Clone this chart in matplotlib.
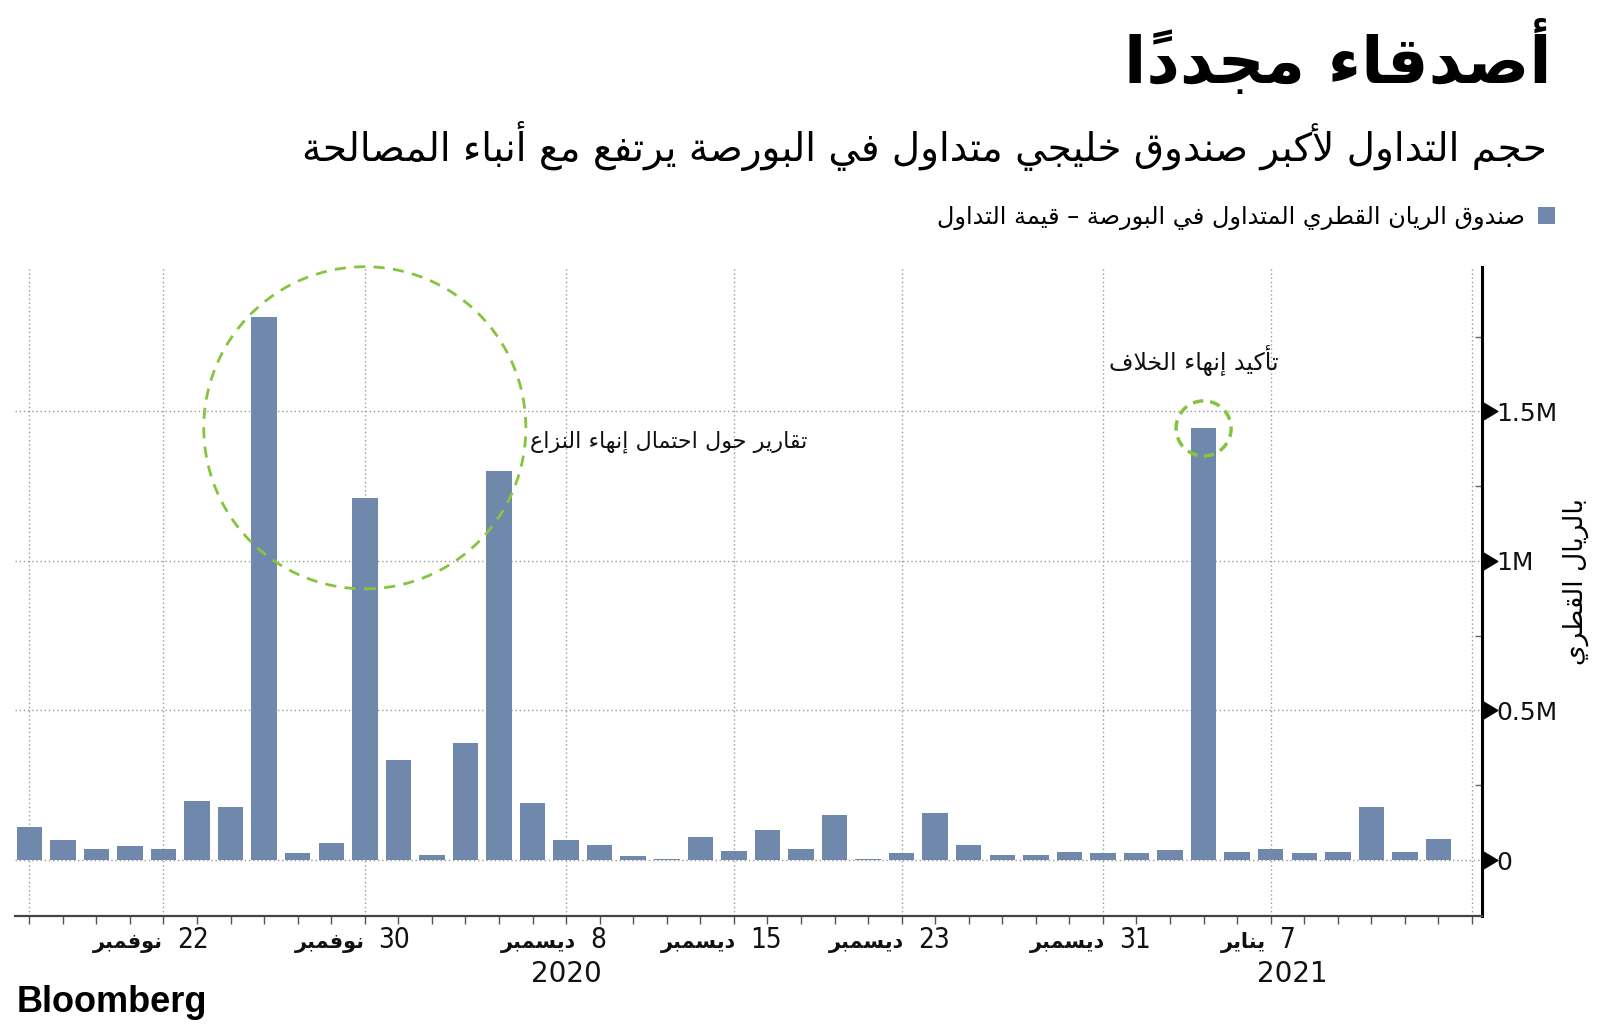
import matplotlib
matplotlib.use("Agg")
import matplotlib.pyplot as plt
from matplotlib.patches import Ellipse
from matplotlib.offsetbox import TextArea, HPacker, AnnotationBbox
from matplotlib.path import Path
from matplotlib.ticker import FixedLocator, FuncFormatter

# ---------------- data ----------------
# daily traded value (QAR) of Al Rayan Qatar ETF, trading days 16 Nov 2020 - 12 Jan 2021
values = [109000, 68000, 37000, 46000, 37000, 198000, 176000, 1814000, 23000, 56000,
          1210000, 333000, 18000, 390000, 1302000, 190000, 68000, 50000, 14000, 3000,
          78000, 29000, 100000, 37000, 149000, 5000, 23000, 158000, 50000, 18000,
          18000, 28000, 23000, 23000, 32000, 1444000, 28000, 37000, 23000, 28000,
          176000, 28000, 72000]
tick_index = [4, 10, 16, 21, 26, 32, 37]
tick_day = ["22", "30", "8", "15", "23", "31", "7"]
tick_month = ["نوفمبر", "نوفمبر", "ديسمبر", "ديسمبر", "ديسمبر", "ديسمبر", "يناير"]
year_index = [16, 37.65]
year_label = ["2020", "2021"]
y_ticks = [0, 500000, 1000000, 1500000]
y_tick_labels = ["0", "0.5M", "1M", "1.5M"]

title = "أصدقاء مجدداً"
subtitle = "حجم التداول لأكبر صندوق خليجي متداول في البورصة يرتفع مع أنباء المصالحة"
legend_label = "صندوق الريان القطري المتداول في البورصة – قيمة التداول"
y_label = "بالريال القطري"
note1 = "تقارير حول احتمال إنهاء النزاع"
note2 = "تأكيد إنهاء الخلاف"

# ---------------- Arabic shaping (presentation forms + visual order) ----------------
FORMS = {  # iso, fin, ini, med
    '\u0621': (0xFE80, None, None, None),
    '\u0622': (0xFE81, 0xFE82, None, None),
    '\u0623': (0xFE83, 0xFE84, None, None),
    '\u0624': (0xFE85, 0xFE86, None, None),
    '\u0625': (0xFE87, 0xFE88, None, None),
    '\u0626': (0xFE89, 0xFE8A, 0xFE8B, 0xFE8C),
    '\u0627': (0xFE8D, 0xFE8E, None, None),
    '\u0628': (0xFE8F, 0xFE90, 0xFE91, 0xFE92),
    '\u0629': (0xFE93, 0xFE94, None, None),
    '\u062A': (0xFE95, 0xFE96, 0xFE97, 0xFE98),
    '\u062B': (0xFE99, 0xFE9A, 0xFE9B, 0xFE9C),
    '\u062C': (0xFE9D, 0xFE9E, 0xFE9F, 0xFEA0),
    '\u062D': (0xFEA1, 0xFEA2, 0xFEA3, 0xFEA4),
    '\u062E': (0xFEA5, 0xFEA6, 0xFEA7, 0xFEA8),
    '\u062F': (0xFEA9, 0xFEAA, None, None),
    '\u0630': (0xFEAB, 0xFEAC, None, None),
    '\u0631': (0xFEAD, 0xFEAE, None, None),
    '\u0632': (0xFEAF, 0xFEB0, None, None),
    '\u0633': (0xFEB1, 0xFEB2, 0xFEB3, 0xFEB4),
    '\u0634': (0xFEB5, 0xFEB6, 0xFEB7, 0xFEB8),
    '\u0635': (0xFEB9, 0xFEBA, 0xFEBB, 0xFEBC),
    '\u0636': (0xFEBD, 0xFEBE, 0xFEBF, 0xFEC0),
    '\u0637': (0xFEC1, 0xFEC2, 0xFEC3, 0xFEC4),
    '\u0638': (0xFEC5, 0xFEC6, 0xFEC7, 0xFEC8),
    '\u0639': (0xFEC9, 0xFECA, 0xFECB, 0xFECC),
    '\u063A': (0xFECD, 0xFECE, 0xFECF, 0xFED0),
    '\u0641': (0xFED1, 0xFED2, 0xFED3, 0xFED4),
    '\u0642': (0xFED5, 0xFED6, 0xFED7, 0xFED8),
    '\u0643': (0xFED9, 0xFEDA, 0xFEDB, 0xFEDC),
    '\u0644': (0xFEDD, 0xFEDE, 0xFEDF, 0xFEE0),
    '\u0645': (0xFEE1, 0xFEE2, 0xFEE3, 0xFEE4),
    '\u0646': (0xFEE5, 0xFEE6, 0xFEE7, 0xFEE8),
    '\u0647': (0xFEE9, 0xFEEA, 0xFEEB, 0xFEEC),
    '\u0648': (0xFEED, 0xFEEE, None, None),
    '\u0649': (0xFEEF, 0xFEF0, None, None),
    '\u064A': (0xFEF1, 0xFEF2, 0xFEF3, 0xFEF4),
}
LAMALEF = {'\u0622': (0xFEF5, 0xFEF6), '\u0623': (0xFEF7, 0xFEF8),
           '\u0625': (0xFEF9, 0xFEFA), '\u0627': (0xFEFB, 0xFEFC)}


def is_mark(c):
    return '\u064B' <= c <= '\u0652'


def dual(c):
    return c in FORMS and FORMS[c][2] is not None


def joins(c):
    return c in FORMS and FORMS[c][1] is not None


def shape(s):
    clusters = []
    for ch in s:
        if is_mark(ch) and clusters:
            clusters[-1] += ch
        else:
            clusters.append(ch)
    bases = [c[0] for c in clusters]
    out = []
    i = 0
    n = len(clusters)
    while i < n:
        b = bases[i]
        marks = clusters[i][1:]
        prev_join = i > 0 and dual(bases[i - 1]) and not (
            out and out[-1][1] == 'lamalef')
        if b == '\u0644' and i + 1 < n and bases[i + 1] in LAMALEF:
            iso, fin = LAMALEF[bases[i + 1]]
            glyph = chr(fin if prev_join else iso)
            out.append((glyph + marks + clusters[i + 1][1:], 'lamalef'))
            i += 2
            continue
        if b in FORMS:
            iso, fin, ini, med = FORMS[b]
            next_join = dual(b) and i + 1 < n and joins(bases[i + 1])
            if prev_join and next_join:
                g = med
            elif prev_join and fin:
                g = fin
            elif next_join:
                g = ini
            else:
                g = iso
            out.append((chr(g) + marks, 'letter'))
        else:
            out.append((clusters[i], 'other'))
        i += 1
    return ''.join(c for c, _ in reversed(out))


AR = ['DejaVu Sans']

# ---------------- figure ----------------
plt.rcParams['font.family'] = ['DejaVu Sans']
fig = plt.figure(figsize=(16, 10.3), dpi=100)
ax = fig.add_axes([0.0095, 0.1107, 0.9168, 0.6302])

bar_color = '#6f88ac'
green = '#86c440'
x = list(range(len(values)))
bars = ax.bar(x, values, width=0.76, color=bar_color, zorder=3,
              label=shape(legend_label))

ax.set_xlim(-0.42, 43.3)
ax.set_ylim(-187000, 1983000)

# grid
ax.xaxis.set_major_locator(FixedLocator([0] + tick_index + [43]))
ax.xaxis.set_minor_locator(FixedLocator(range(0, 44)))
ax.yaxis.set_major_locator(FixedLocator(y_ticks))
ax.yaxis.set_minor_locator(FixedLocator([250000, 750000, 1250000, 1750000]))
ax.grid(True, which='major', axis='both', linestyle=(0, (1, 2)),
        color='#9a9a9a', linewidth=1, zorder=0)

# spines
for s in ['top', 'left']:
    ax.spines[s].set_visible(False)
ax.spines['right'].set_linewidth(2.2)
ax.spines['right'].set_color('black')
ax.spines['bottom'].set_linewidth(1.6)
ax.spines['bottom'].set_color('#444444')

# x ticks
ax.set_xticklabels([])
ax.tick_params(axis='x', which='both', length=6, width=1, color='#555555',
               direction='out')

# y ticks on right with triangle markers
ax.yaxis.tick_right()
ax.yaxis.set_major_formatter(FuncFormatter(
    lambda v, p: y_tick_labels[y_ticks.index(v)] if v in y_ticks else ''))
ax.tick_params(axis='y', which='major', length=0, pad=10, labelsize=18,
               labelcolor='#111111')
ax.tick_params(axis='y', which='minor', length=5, width=1, direction='in',
               color='#666666')
tri = Path([(0, -0.3), (0.5, 0), (0, 0.3), (0, -0.3)],
           [Path.MOVETO, Path.LINETO, Path.LINETO, Path.CLOSEPOLY])
ax.plot([1] * len(y_ticks), y_ticks, transform=ax.get_yaxis_transform(),
        marker=tri, markersize=22, color='black', linestyle='none',
        clip_on=False, zorder=5)

# date labels: bold month + number, centred slightly left of tick
for idx, day, mon in zip(tick_index, tick_day, tick_month):
    t_mon = TextArea(shape(mon), textprops=dict(fontsize=15, fontweight='bold',
                                                family=AR, color='#111111'))
    t_day = TextArea(day, textprops=dict(fontsize=20, family=['DejaVu Sans'],
                                         fontstretch='condensed', color='#111111'))
    pack = HPacker(children=[t_mon, t_day], align='baseline', pad=0, sep=10)
    ab = AnnotationBbox(pack, (idx, 0), xycoords=ax.get_xaxis_transform(),
                        xybox=(-9, -7), boxcoords='offset points',
                        box_alignment=(0.5, 1), frameon=False,
                        annotation_clip=False)
    ax.add_artist(ab)

for yi, yl in zip(year_index, year_label):
    ax.annotate(yl, (yi, 0), xycoords=ax.get_xaxis_transform(),
                xytext=(0, -32), textcoords='offset points', ha='center',
                va='top', fontsize=20, color='#111111', annotation_clip=False)

# annotation circles
ax.add_patch(Ellipse((10, 1445000), 9.6, 1077000, fill=False, edgecolor=green,
                     linewidth=2, linestyle=(0, (4, 3)), zorder=6, clip_on=False))
ax.add_patch(Ellipse((35, 1443000), 1.64, 184000, fill=False, edgecolor=green,
                     linewidth=2.5, linestyle=(0, (3, 2)), zorder=6, clip_on=False))
ax.text(23.2, 1400000, shape(note1), ha='right', va='center', fontsize=16,
        family=AR, color='#111111', zorder=7)
ax.text(37.25, 1670000, shape(note2), ha='right', va='center', fontsize=17,
        family=AR, color='#111111', zorder=7)

# titles
fig.text(0.9695, 0.943, shape(title), ha='right', va='center', fontsize=47,
         fontweight='bold', family=AR, color='black')
fig.text(0.967, 0.858, shape(subtitle), ha='right', va='center', fontsize=28,
         family=AR, color='black')
fig.text(0.985, 0.435, shape(y_label), ha='center', va='center', fontsize=19,
         rotation=90, family=AR, color='black')

leg = ax.legend(handles=[bars], loc='center right', bbox_to_anchor=(0.972, 0.789),
                bbox_transform=fig.transFigure, frameon=False, markerfirst=False,
                fontsize=17.3, handlelength=0.7, handleheight=0.7,
                handletextpad=0.55, borderpad=0, borderaxespad=0)
for t in leg.get_texts():
    t.set_family(AR)

fig.text(0.0105, 0.0265, 'Bloomberg', ha='left', va='center', fontsize=26,
         fontweight='bold', family=['Liberation Sans', 'DejaVu Sans'],
         color='black')

fig.savefig('out.png', dpi=100, facecolor='white')
